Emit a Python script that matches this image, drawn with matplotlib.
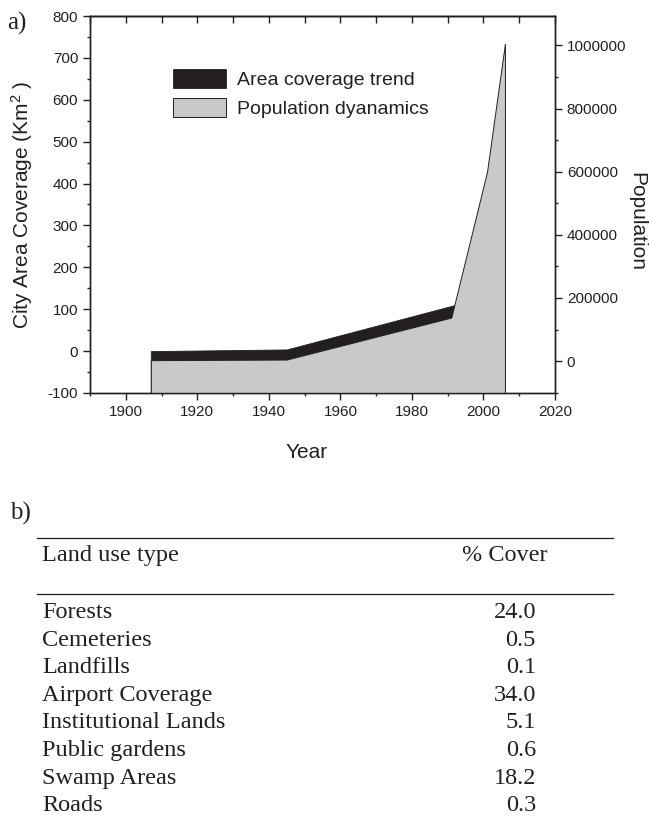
import numpy as np
import matplotlib
matplotlib.use("Agg")
import matplotlib.pyplot as plt
from matplotlib.ticker import MultipleLocator

# data
area_years = [1907, 1945, 1992]
area_km2 = [0, 4, 110]

pop_years = [1907, 1945, 1991, 2001, 2006]
population = [3000, 5000, 138000, 600000, 1005000]

land_use = ["Forests", "Cemeteries", "Landfills", "Airport Coverage",
            "Institutional Lands", "Public gardens", "Swamp Areas", "Roads"]
cover_pct = [24.0, 0.5, 0.1, 34.0, 5.1, 0.6, 18.2, 0.3]

ink = "#231f20"
grey = "#c8c9cb"
W, H = 649, 835

plt.rcParams["font.family"] = ["Liberation Sans", "DejaVu Sans"]
plt.rcParams["mathtext.fontset"] = "custom"
plt.rcParams["mathtext.rm"] = "Liberation Sans"
plt.rcParams["mathtext.it"] = "Liberation Sans"
plt.rcParams["axes.unicode_minus"] = False
plt.rcParams["text.color"] = ink
plt.rcParams["axes.edgecolor"] = ink
plt.rcParams["xtick.color"] = ink
plt.rcParams["ytick.color"] = ink


def fx(px):
    return px / W


def fy(py):
    return 1 - py / H


fig = plt.figure(figsize=(W / 100, H / 100), dpi=100)
ax = fig.add_axes([fx(90), fy(393), (555 - 90) / W, (393 - 16) / H])
ax2 = ax.twinx()

black = ax.fill_between(area_years, -100, area_km2, facecolor=ink,
                        edgecolor=ink, linewidth=0.6)
gray = ax2.fill_between(pop_years, -101000, population, facecolor=grey,
                        edgecolor=ink, linewidth=0.7)

ax.set_xlim(1890, 2020)
ax.set_ylim(-100, 800)
ax2.set_ylim(-101000, 1093000)

ax.xaxis.set_major_locator(MultipleLocator(20))
ax.xaxis.set_minor_locator(MultipleLocator(10))
ax.yaxis.set_major_locator(MultipleLocator(100))
ax.yaxis.set_minor_locator(MultipleLocator(50))
ax2.yaxis.set_minor_locator(MultipleLocator(100000))
ax2.set_yticks([0, 200000, 400000, 600000, 800000, 1000000])
ax2.set_yticklabels(["0", "200000", "400000", "600000", "800000", "1000000"])

for a in (ax, ax2):
    a.tick_params(which="major", direction="out", length=5, width=1.0,
                  labelsize=11, pad=3.5)
    a.tick_params(which="minor", direction="out", length=2.5, width=1.0)
    for s in a.spines.values():
        s.set_linewidth(1.0)
ax.tick_params(axis="y", right=False)

top = ax.secondary_xaxis("top")
top.xaxis.set_major_locator(MultipleLocator(10))
top.tick_params(direction="in", length=5, width=1.0, labeltop=False)
top.spines["top"].set_linewidth(1.0)

fig.text(fx(22), fy(205), "City Area Coverage (Km$^2$ )", rotation=90,
         ha="center", va="center", fontsize=15)
fig.text(fx(637), fy(221), "Population", rotation=270,
         ha="center", va="center", fontsize=15)
fig.text(fx(307), fy(453), "Year", ha="center", va="center", fontsize=15)

ax2.legend([black, gray], ["Area coverage trend", "Population dyanamics"],
           loc="upper left", bbox_to_anchor=(fx(173), fy(69)),
           bbox_transform=fig.transFigure, frameon=False, fontsize=14,
           borderpad=0, borderaxespad=0, handlelength=2.7, handleheight=1.15,
           handletextpad=0.6, labelspacing=0.45)

# panel labels
fig.text(fx(7), fy(30), "a)", family="Liberation Serif", fontsize=18,
         va="baseline", ha="left")
fig.text(fx(10), fy(520), "b)", family="Liberation Serif", fontsize=18,
         va="baseline", ha="left")

# table b)
serif = dict(family="Liberation Serif", fontsize=17.5, va="baseline")
for ly in (538, 594):
    fig.add_artist(plt.Line2D([fx(37), fx(613)], [fy(ly), fy(ly)],
                              color=ink, linewidth=0.9))
fig.text(fx(42), fy(561), "Land use type", ha="left", **serif)
fig.text(fx(505), fy(561), "% Cover", ha="center", **serif)
row_base = 618 + 27.6 * np.arange(len(land_use))
for name, val, y in zip(land_use, cover_pct, row_base):
    fig.text(fx(42), fy(y), name, ha="left", **serif)
    fig.text(fx(536), fy(y), f"{val:.1f}", ha="right", **serif)

fig.savefig("out.png", dpi=100)
